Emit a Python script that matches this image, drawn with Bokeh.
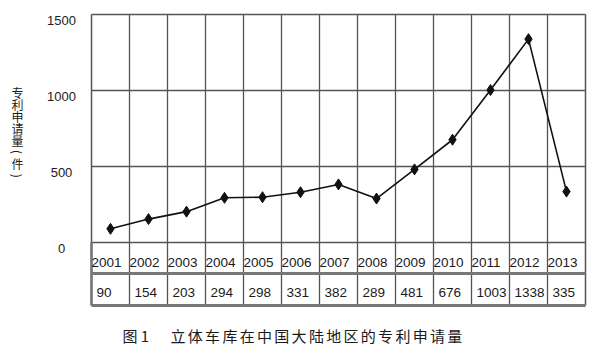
import math
from bokeh.plotting import figure
from bokeh.models import Range1d, ColumnDataSource
from bokeh.core.properties import value
from bokeh.embed import file_html
from bokeh.resources import INLINE

# ---- data ----
years = ["2001", "2002", "2003", "2004", "2005", "2006", "2007",
         "2008", "2009", "2010", "2011", "2012", "2013"]
counts = [90, 154, 203, 294, 298, 331, 382, 289, 481, 676, 1003, 1338, 335]
y_ticks = [0, 500, 1000, 1500]
y_title = "专利申请量(件)"
caption_head = "图 1"
caption_body = "立体车库在中国大陆地区的专利申请量"

n = len(years)
W, H = 600, 351
LEFT, RIGHT = 91, 585          # plot area in canvas px
TOP, ZERO = 14, 242            # canvas px of 1500 and 0
XPX = (RIGHT - LEFT) / n       # px per column
UPX = 1500 / (ZERO - TOP)      # data units per px


def cx(px):
    return (px - LEFT) / XPX


def cy(py):
    return (ZERO - py) * UPX


p = figure(width=W, height=H, output_backend="svg", toolbar_location=None,
           x_axis_location=None, y_axis_location=None,
           x_range=Range1d(cx(0), cx(W)), y_range=Range1d(cy(H), cy(0)),
           min_border=0)
p.background_fill_color = "white"
p.border_fill_color = "white"
p.outline_line_color = None
p.grid.visible = False

GRID = "#555555"
TBL = "#777777"
bottom = cy(305)
mid = cy(273)

# vertical grid lines (through the chart and the table)
vx = list(range(1, n))
p.segment(x0=vx, y0=[bottom] * len(vx), x1=vx, y1=[1500] * len(vx),
          line_color=GRID, line_width=1.3)
# horizontal grid lines
p.segment(x0=[0] * 2, y0=[500, 1000], x1=[n] * 2, y1=[500, 1000],
          line_color=GRID, line_width=1.3)
p.segment(x0=[0], y0=[0], x1=[n], y1=[0], line_color=GRID, line_width=1.5)
# outer border
p.segment(x0=[0, n, 0], y0=[bottom, bottom, 1500], x1=[0, n, n], y1=[1500, 1500, 1500],
          line_color=GRID, line_width=1.5)
p.segment(x0=[0], y0=[bottom], x1=[0], y1=[0], line_color=TBL, line_width=2.5)
# table rules
p.segment(x0=[0, 0], y0=[mid, bottom], x1=[n, n], y1=[mid, bottom],
          line_color=TBL, line_width=3)

# y tick labels
p.text(x=[cx(61)] * len(y_ticks), y=y_ticks, text=[str(t) for t in y_ticks],
       text_font=value("Liberation Sans"), text_font_size="13px",
       text_align="center", text_baseline="middle", text_color="#222222", y_offset=6)

# series
xs = [i + 0.5 for i in range(n)]
src = ColumnDataSource(dict(x=xs, y=counts))
p.line("x", "y", source=src, line_color="#111111", line_width=1.6)
p.scatter("x", "y", source=src, marker="diamond", size=11, color="#111111")

# table text
tsrc = ColumnDataSource(dict(x=list(range(n)), yy=[cy(262)] * n, yv=[cy(292)] * n,
                             years=years, vals=[str(c) for c in counts]))
p.text("x", "yy", text="years", source=tsrc, text_font=value("Liberation Sans"),
       text_font_size="13.5px", text_align="left", text_baseline="middle",
       text_color="#1a1a1a")
p.text("x", "yv", text="vals", source=tsrc, text_font=value("Liberation Sans"),
       text_font_size="13.5px", text_align="left", text_baseline="middle",
       text_color="#1a1a1a", x_offset=5)

# vertical y-axis title (stacked characters, brackets turned sideways)
chars = list(y_title)
angles = [-math.pi / 2 if c in "()" else 0 for c in chars]
p.text(x=[cx(17)] * len(chars), y=[cy(92 + k * 11.9) for k in range(len(chars))],
       text=chars, angle=angles, text_font=value("Noto Sans CJK SC"), text_font_size="12px",
       text_align="center", text_baseline="middle", text_color="#1a1a1a")

# caption
p.text(x=[cx(122)], y=[cy(335)], text=[caption_head], text_font=value("Noto Sans CJK SC"),
       text_font_size="15px", text_align="left", text_baseline="middle", text_color="#1a1a1a")
cb = list(caption_body)
p.text(x=[cx(170 + k * 17.3) for k in range(len(cb))], y=[cy(335)] * len(cb), text=cb,
       text_font=value("Noto Sans CJK SC"), text_font_size="15px",
       text_align="left", text_baseline="middle", text_color="#1a1a1a")

open("out.html", "w").write(file_html(p, INLINE))
